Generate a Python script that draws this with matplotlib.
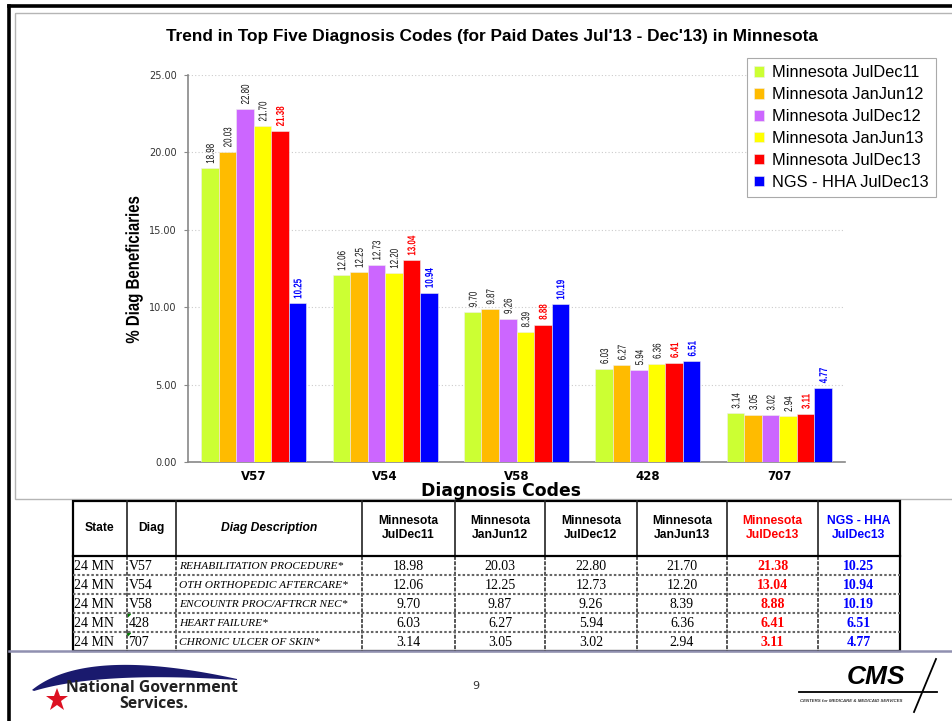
import numpy as np
import matplotlib
matplotlib.use("Agg")
import matplotlib.pyplot as plt
from matplotlib.font_manager import FontProperties
from matplotlib.textpath import TextPath
from matplotlib.transforms import Affine2D, ScaledTranslation
from matplotlib.patches import Rectangle, Polygon, PathPatch
from matplotlib.lines import Line2D

# ---------------- data ----------------
categories = ['V57', 'V54', 'V58', '428', '707']
series_names = ['Minnesota JulDec11', 'Minnesota JanJun12', 'Minnesota JulDec12',
                'Minnesota JanJun13', 'Minnesota JulDec13', 'NGS - HHA JulDec13']
jul_dec_11 = [18.98, 12.06, 9.70, 6.03, 3.14]
jan_jun_12 = [20.03, 12.25, 9.87, 6.27, 3.05]
jul_dec_12 = [22.80, 12.73, 9.26, 5.94, 3.02]
jan_jun_13 = [21.70, 12.20, 8.39, 6.36, 2.94]
jul_dec_13 = [21.38, 13.04, 8.88, 6.41, 3.11]
ngs_hha_13 = [10.25, 10.94, 10.19, 6.51, 4.77]
states = ['24 MN', '24 MN', '24 MN', '24 MN', '24 MN']
descriptions = ['REHABILITATION PROCEDURE*', 'OTH ORTHOPEDIC AFTERCARE*',
                'ENCOUNTR PROC/AFTRCR NEC*', 'HEART FAILURE*', 'CHRONIC ULCER OF SKIN*']
y_ticks = [0, 5, 10, 15, 20, 25]

series_values = [jul_dec_11, jan_jun_12, jul_dec_12, jan_jun_13, jul_dec_13, ngs_hha_13]
colors = ['#CCFF33', '#FFBB00', '#CC66FF', '#FFFF00', '#FF0000', '#0000FF']
label_colors = ['#111111'] * 4 + ['#FF0000', '#0000FF']
label_weights = ['normal'] * 4 + ['bold', 'bold']

W, H = 952, 721
fig = plt.figure(figsize=(W / 100, H / 100), dpi=100)
fig.patch.set_facecolor('white')
K = fig.dpi / 72.0


def condensed_text(x, y, s, base_trans, size, sx, color, weight='normal',
                   family='Liberation Sans', along='start', gap_px=0.0, zorder=5):
    """Rotated (90 deg) horizontally-condensed text drawn as a path."""
    tp = TextPath((0, 0), s, size=size, prop=FontProperties(family=family, weight=weight))
    bb = tp.get_extents()
    x0 = -bb.x0 if along == 'start' else -(bb.x0 + bb.x1) / 2
    tr = (Affine2D().translate(x0, -(bb.y0 + bb.y1) / 2)
          .scale(sx * K, K).rotate_deg(90).translate(0, gap_px)
          + ScaledTranslation(x, y, base_trans))
    p = PathPatch(tp, transform=tr, facecolor=color, edgecolor='none', zorder=zorder)
    fig.add_artist(p)
    return p


# background axes in pixel coordinates
bg = fig.add_axes([0, 0, 1, 1], zorder=0)
bg.set_xlim(0, W)
bg.set_ylim(H, 0)
bg.axis('off')

# outer black border
bg.add_line(Line2D([8.5, 8.5], [5.5, H], color='black', lw=2.6))
bg.add_line(Line2D([8.5, W], [5.5, 5.5], color='black', lw=2.6))
# chart frame
bg.add_patch(Rectangle((15, 13), W, 486, fill=False, edgecolor='#b5b5b5', lw=1.0))
# bottom separator
bg.add_line(Line2D([9, W], [650.5, 650.5], color='#9090b0', lw=1.8))

# ---------------- chart ----------------
ax = fig.add_axes([188 / W, 1 - 462 / H, 657 / W, 387 / H], zorder=2)
ax.set_facecolor('none')
n = len(series_values)
group_w = 0.80
bw = group_w / n
x = np.arange(len(categories))
ax.set_xlim(-0.5, len(categories) - 0.5)
ax.set_ylim(0, 25)
for i, (vals, name) in enumerate(zip(series_values, series_names)):
    pos = x - group_w / 2 + bw * (i + 0.5)
    ax.bar(pos, vals, width=bw, color=colors[i], edgecolor='#eeeeee',
           linewidth=0.4, label=name, zorder=3)
    for px, v in zip(pos, vals):
        condensed_text(px, v, f'{v:.2f}', ax.transData, 8.2, 0.70, label_colors[i],
                       weight=label_weights[i], gap_px=5)

ax.set_yticks(y_ticks)
ax.set_yticklabels([f'{t:.2f}' for t in y_ticks], fontsize=7, color='#333333',
                   family='DejaVu Sans')
ax.set_xticks(x)
ax.set_xticklabels(categories, fontsize=8.5, fontweight='bold', family='DejaVu Sans')
ax.tick_params(axis='x', length=0, pad=6)
ax.tick_params(axis='y', length=3, color='#888888', pad=5)
for s in ['top', 'right']:
    ax.spines[s].set_visible(False)
for s in ['left', 'bottom']:
    ax.spines[s].set_color('#888888')
    ax.spines[s].set_linewidth(1.2)
ax.yaxis.grid(True, linestyle=(0, (1, 2)), color='#cccccc', lw=0.8, zorder=0)
ax.set_axisbelow(True)

condensed_text(134, 270, '% Diag Beneficiaries', bg.transData, 13.5, 0.80, 'black',
               weight='bold', along='center')
fig.text(501 / W, 1 - 491 / H, 'Diagnosis Codes', fontsize=12.4, fontweight='bold',
         family='DejaVu Sans', ha='center', va='center')
fig.text(492 / W, 1 - 37 / H,
         "Trend in Top Five Diagnosis Codes (for Paid Dates Jul'13 - Dec'13) in Minnesota",
         fontsize=12.4, fontweight='bold', family='Liberation Sans', ha='center', va='center')

leg = fig.legend(loc='upper left', bbox_to_anchor=(747 / W, 1 - 58 / H),
                 prop={'family': 'Liberation Sans', 'size': 11.8},
                 handlelength=0.6, handleheight=0.6, handletextpad=0.5,
                 labelspacing=0.42, borderpad=0.45, borderaxespad=0, fancybox=False,
                 edgecolor='#aaaaaa', framealpha=1)
leg.get_frame().set_linewidth(0.8)

# ---------------- table ----------------
col_edges = [73, 126.5, 176, 361.5, 455, 545, 637, 727, 818, 899.5]
row_edges = [500.5, 556, 575, 594, 613, 632, 650.5]
tab_top, tab_bot = row_edges[0], row_edges[-1]
for xe in col_edges[1:-1]:
    bg.add_line(Line2D([xe, xe], [tab_top, row_edges[1]], color='#222222', lw=1.2))
    bg.add_line(Line2D([xe, xe], [row_edges[1], tab_bot], color='#555555', lw=1.4,
                       linestyle=(0, (2, 0.7))))
for ye in row_edges[2:-1]:
    bg.add_line(Line2D([col_edges[0], col_edges[-1]], [ye, ye], color='#666666', lw=1.5,
                       linestyle=(0, (1.2, 1.0))))
bg.add_line(Line2D([col_edges[0], col_edges[-1]], [row_edges[1], row_edges[1]],
                   color='black', lw=1.6))
bg.add_patch(Rectangle((col_edges[0], tab_top), col_edges[-1] - col_edges[0],
                       tab_bot - tab_top, fill=False, edgecolor='black', lw=1.6))

hdr_y = (row_edges[0] + row_edges[1]) / 2


def cx(i):
    return (col_edges[i] + col_edges[i + 1]) / 2


bg.text(cx(0), hdr_y, 'State', ha='center', va='center', fontsize=8.7, fontweight='bold',
        family='Liberation Sans')
bg.text(cx(1), hdr_y, 'Diag', ha='center', va='center', fontsize=8.7, fontweight='bold',
        family='Liberation Sans')
bg.text(cx(2), hdr_y, 'Diag Description', ha='center', va='center', fontsize=8.7,
        fontweight='bold', style='italic', family='Liberation Sans')
hdr_colors = ['black'] * 4 + ['#FF0000', '#0000FF']
for j, name in enumerate(series_names):
    a, b = name.rsplit(' ', 1)
    bg.text(cx(3 + j), hdr_y, f'{a}\n{b}', ha='center', va='center', fontsize=8.7,
            fontweight='bold', family='Liberation Sans', color=hdr_colors[j],
            linespacing=1.2)

val_colors = ['black'] * 4 + ['#FF0000', '#0000FF']
val_weights = ['normal'] * 4 + ['bold', 'bold']
for r in range(len(categories)):
    yc = (row_edges[r + 1] + row_edges[r + 2]) / 2 + 1
    bg.text(col_edges[0] + 1.5, yc, states[r], ha='left', va='center', fontsize=10,
            family='Liberation Serif')
    bg.text(col_edges[1] + 2, yc, categories[r], ha='left', va='center', fontsize=10,
            family='Liberation Serif')
    bg.text(col_edges[2] + 3, yc, descriptions[r], ha='left', va='center', fontsize=8.2,
            style='italic', family='Liberation Serif')
    for j, vals in enumerate(series_values):
        bg.text(cx(3 + j), yc, f'{vals[r]:.2f}', ha='center', va='center', fontsize=10,
                family='Liberation Serif', color=val_colors[j], fontweight=val_weights[j])
# excel comment markers
for r in (3, 4):
    bg.add_patch(Polygon([[col_edges[1] + 1, row_edges[r + 1] + 1],
                          [col_edges[1] + 4, row_edges[r + 1] + 1],
                          [col_edges[1] + 1, row_edges[r + 1] + 4]],
                         closed=True, color='#008000'))


# ---------------- footer ----------------
def bez(p0, p1, p2, t):
    t = t[:, None]
    return (1 - t) ** 2 * np.array(p0) + 2 * (1 - t) * t * np.array(p1) + t ** 2 * np.array(p2)


tt = np.linspace(0, 1, 80)
outer = bez((32, 690), (86, 646), (237, 679), tt)
inner = bez((34, 691), (100, 671), (237, 680), tt)[::-1]
bg.add_patch(Polygon(np.vstack([outer, inner]), closed=True, color='#1a1a6e', lw=0))
bg.text(152, 688, 'National Government', ha='center', va='center', fontsize=11.3,
        fontweight='bold', family='Open Sans', color='#222222')
bg.text(154, 704, 'Services.', ha='center', va='center', fontsize=11.3,
        fontweight='bold', family='Open Sans', color='#222222')
bg.plot([57], [700], marker='*', markersize=17, color='#dd1122', markeredgewidth=0)

bg.text(476, 686, '9', ha='center', va='center', fontsize=8, family='DejaVu Sans',
        color='#333333')

# CMS logo
bg.text(876, 677, 'CMS', ha='center', va='center', fontsize=19, fontweight='bold',
        style='italic', family='Liberation Sans', color='black')
bg.add_line(Line2D([799, 937], [692, 692], color='black', lw=1.3))
bg.add_line(Line2D([936, 914], [659, 712], color='black', lw=1.3))
bg.text(851, 701.5, 'CENTERS for MEDICARE & MEDICAID SERVICES', ha='center', va='center',
        fontsize=3.2, fontweight='bold', style='italic', family='Liberation Sans',
        color='#333333')

fig.savefig('out.png', dpi=100, facecolor='white')
